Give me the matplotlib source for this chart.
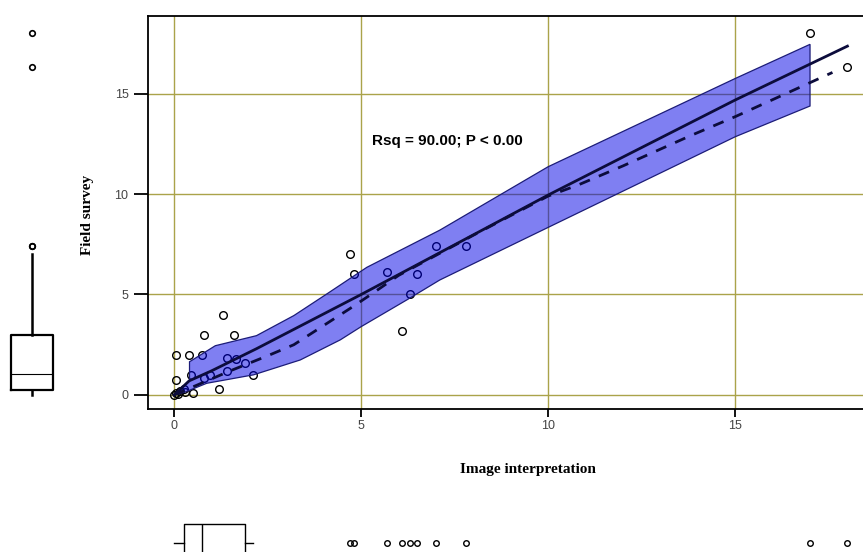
import matplotlib.pyplot as plt
import numpy as np

# scatter: image interpretation (x) vs field survey (y)
img_x = [0.0, 0.05, 0.1, 0.15, 0.25, 0.3, 0.5, 1.2, 0.05, 0.8, 0.45, 0.95, 1.4, 2.1,
         1.9, 1.65, 1.4, 0.05, 0.4, 0.75, 0.8, 1.6, 1.3,
         4.7, 4.8, 5.7, 6.1, 6.3, 6.5, 7.0, 7.8, 17.0, 18.0]
field_y = [0.0, 0.1, 0.05, 0.2, 0.3, 0.15, 0.1, 0.3, 0.75, 0.85, 1.0, 1.0, 1.2, 1.0,
           1.6, 1.8, 1.85, 2.0, 2.0, 2.0, 3.0, 3.0, 4.0,
           7.0, 6.0, 6.1, 3.2, 5.0, 6.0, 7.4, 7.4, 18.0, 16.3]

# fitted line (solid) and smoother (dashed)
fit_x = [0, 0.4, 1.0, 2.2, 5.0, 10.0, 15.0, 18.0]
fit_y = [0, 0.7, 1.2, 2.3, 5.0, 9.95, 14.68, 17.36]
smooth_x = [0, 0.5, 1.0, 1.5, 2.5, 3.2, 3.7, 4.2, 4.7, 5.3, 6.0, 7.0, 8.0, 9.0, 10.0,
            10.8, 12.0, 13.8, 15.0, 17.6]
smooth_y = [0, 0.4, 0.8, 1.2, 1.95, 2.5, 3.1, 3.7, 4.3, 5.05, 5.95, 6.95, 7.95, 8.93, 9.9,
            10.45, 11.4, 12.9, 13.85, 16.05]

# confidence band
band_up_x = [0, 0.2, 0.41, 0.41, 1.1, 2.2, 3.2, 4.1, 5.15, 7.1, 10.0, 15.0, 17.0]
band_up_y = [0, 0.35, 0.7, 1.65, 2.45, 2.95, 3.95, 5.05, 6.35, 8.2, 11.36, 15.75, 17.45]
band_lo_x = [0, 0.3, 0.87, 2.12, 3.37, 4.44, 5.0, 6.22, 7.1, 10.0, 15.0, 17.0]
band_lo_y = [0, 0.15, 0.58, 1.0, 1.74, 2.74, 3.4, 4.73, 5.72, 8.34, 12.85, 14.38]

# marginal box plot summaries
y_box = dict(q1=0.25, med=1.05, q3=3.0, lo=0.0, hi=7.0)
x_box = dict(q1=0.27, med=0.75, q3=1.9, lo=0.0, hi=2.1)

ticks = [0, 5, 10, 15]
grid_col = '#aaa34a'
ink = '#0c0c3c'
XLIM = (-0.7, 18.55)
YLIM = (-0.7, 18.86)

W, H = 863, 552
fig = plt.figure(figsize=(W / 100, H / 100), dpi=100)
ax = fig.add_axes([148 / W, 143 / H, 720 / W, 393 / H])

xs = np.array(img_x)
ys = np.array(field_y)

ax.plot(xs, ys, 'o', mfc='none', mec='black', ms=5.5, mew=1, zorder=2)

poly_x = np.concatenate([band_up_x, band_lo_x[::-1]])
poly_y = np.concatenate([band_up_y, band_lo_y[::-1]])
ax.fill(poly_x, poly_y, facecolor=(0.0, 0.0, 0.9, 0.5), edgecolor='#1c1c78', lw=0.9, zorder=3)

ax.plot(fit_x, fit_y, color=ink, lw=2, zorder=4)
ax.plot(smooth_x, smooth_y, color=ink, lw=2, ls=(0, (4, 3.5)), zorder=4)

ax.text(5.3, 12.64, 'Rsq = 90.00; P < 0.00', fontfamily='Liberation Sans',
        fontweight='bold', fontsize=11, va='center', ha='left', zorder=5)

ax.set_xlim(XLIM)
ax.set_ylim(YLIM)
ax.set_xticks(ticks)
ax.set_yticks(ticks)
ax.grid(color=grid_col, lw=1)
ax.set_axisbelow(True)
ax.spines['right'].set_visible(False)
for s in ['left', 'top', 'bottom']:
    ax.spines[s].set_linewidth(1.3)
ax.tick_params(axis='x', length=6, width=1.3, pad=2, labelsize=9, labelcolor='#444444')
ax.tick_params(axis='y', length=10, width=1.3, pad=4, labelsize=9, labelcolor='#444444')
for lab in ax.get_xticklabels() + ax.get_yticklabels():
    lab.set_fontfamily('Liberation Sans')

# left box plot (field survey)
axl = fig.add_axes([0, 143 / H, 65 / W, 393 / H])
axl.set_xlim(0, 65)
axl.set_ylim(YLIM)
axl.axis('off')
stats_y = [dict(q1=y_box['q1'], med=y_box['med'], q3=y_box['q3'],
                whislo=y_box['lo'], whishi=y_box['hi'], fliers=ys[ys > y_box['hi']])]
axl.bxp(stats_y, positions=[32], widths=[42], showcaps=False,
        boxprops=dict(color='black', lw=1.6),
        medianprops=dict(color='black', lw=0.8),
        whiskerprops=dict(color='black', lw=1.8),
        flierprops=dict(marker='o', mfc='none', mec='black', ms=4, mew=1.2))

# bottom box plot (image interpretation)
axb = fig.add_axes([148 / W, 0, 720 / W, 47 / H])
axb.set_xlim(XLIM)
axb.set_ylim(0, 47)
axb.axis('off')
stats_x = [dict(q1=x_box['q1'], med=x_box['med'], q3=x_box['q3'],
                whislo=x_box['lo'], whishi=x_box['hi'], fliers=xs[xs > x_box['hi']])]
axb.bxp(stats_x, positions=[9], widths=[38], orientation='horizontal', showcaps=False,
        boxprops=dict(color='black', lw=1.0),
        medianprops=dict(color='black', lw=1.0),
        whiskerprops=dict(color='black', lw=1.0),
        flierprops=dict(marker='o', mfc='none', mec='black', ms=4, mew=1.0))

fig.text(87 / W, 1 - 215 / H, 'Field survey', rotation=90, ha='center', va='center',
         fontfamily='Liberation Serif', fontweight='bold', fontsize=11)
fig.text(528 / W, 1 - 470 / H, 'Image interpretation', ha='center', va='center',
         fontfamily='Liberation Serif', fontweight='bold', fontsize=11)

fig.savefig('out.png', dpi=100)
